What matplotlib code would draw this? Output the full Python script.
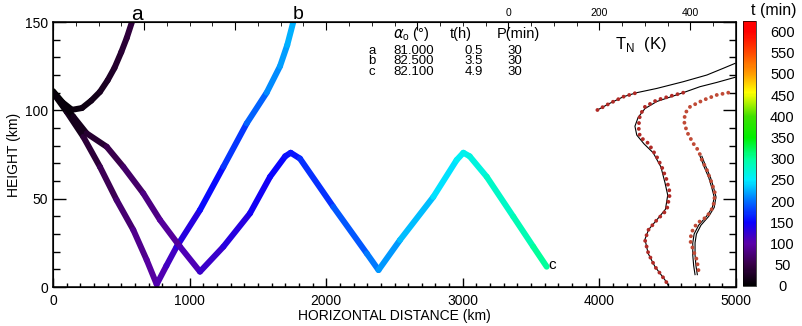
import numpy as np
import matplotlib
matplotlib.use('Agg')
import matplotlib.pyplot as plt
from matplotlib.collections import LineCollection
from matplotlib.colors import LinearSegmentedColormap, Normalize
from matplotlib.cm import ScalarMappable
from matplotlib.ticker import MultipleLocator, FuncFormatter

plt.rcParams['font.family'] = ['Liberation Sans', 'DejaVu Sans']

# ray paths: horizontal distance (km), height (km), travel time (min)
ray_a_x = [0, 70, 139, 212, 280, 344, 400, 450, 500, 540, 578]
ray_a_h = [110.9, 104.5, 100.3, 101.3, 105.5, 110.5, 117, 124, 133, 141, 150]
ray_a_t = [0, 4, 8, 12, 16, 20, 25, 30, 35, 40, 45]

ray_b_x = [0, 100, 222, 344, 466, 588, 686, 759, 830, 905, 1076, 1247, 1418, 1564, 1662, 1715, 1759]
ray_b_h = [110, 99.2, 85, 68, 49.2, 32.3, 15.3, 1.5, 12, 22.8, 43.6, 68, 92.6, 110, 125, 137, 150]
ray_b_t = [0, 12, 30, 50, 66, 80, 92, 100, 110, 120, 145, 165, 185, 205, 215, 222, 228]

ray_c_x = [0, 149, 246, 393, 515, 661, 783, 930, 1076, 1247, 1442, 1589, 1700, 1740, 1808,
           2052, 2297, 2383, 2540, 2784, 2955, 3004, 3050, 3175, 3370, 3516, 3614]
ray_c_h = [110, 96.4, 87, 79.4, 68, 53, 38, 22.8, 8.7, 22.8, 41.7, 62.4, 74, 76, 72.7,
           45.4, 19, 9.6, 26.6, 51, 71.9, 76, 74, 62.4, 39.8, 22.8, 11.5]
ray_c_t = [0, 15, 25, 45, 60, 75, 88, 100, 115, 125, 140, 150, 155, 158, 162,
           180, 200, 210, 222, 240, 252, 258, 262, 272, 285, 296, 305]

# temperature profiles (K) vs height (km), top axis
p1_line_T = [195.6, 223, 252.6, 282, 326, 384, 436, 472, 498]
p1_line_h = [100.2, 104, 107.7, 110, 112.4, 116.2, 120, 123.8, 126.6]
p1_dot_T = [195.6, 223, 252.6, 282]
p1_dot_h = [100.2, 104, 107.7, 110]

p2_line_T = [498, 457.7, 421, 384, 355, 326, 300, 285, 278, 282, 298, 318, 335, 344, 350,
             345, 326, 308, 300, 307, 322, 344, 351]
p2_line_h = [118.7, 115.8, 113.4, 110, 107.5, 105, 101, 96, 91, 86, 81, 76, 68, 59, 52,
             44, 38, 32.5, 27, 19, 11.5, 4, 1]
p2_dot_T = [384, 355, 326, 300, 289, 285.8, 289, 307.5, 318, 326, 337, 348, 355, 348, 326,
            307.5, 300, 307.5, 322, 344, 351]
p2_dot_h = [110, 108, 105.8, 102, 97.3, 90.7, 85, 81.3, 77, 73.7, 68, 60.5, 53, 43.6, 37.9,
            32.3, 26.6, 19, 11.5, 4, 1.1]

p3_dot_T = [483, 457.7, 428, 399, 388, 386, 392, 406, 418, 425, 436, 447, 454, 450, 436,
            414, 403, 399, 406, 414, 418]
p3_dot_h = [110, 108.7, 105.8, 102, 98.3, 93.6, 87.9, 81.3, 77, 71.9, 66.2, 58.7, 53, 45.4, 39.8,
            36, 31.3, 26.6, 20.9, 15.3, 8.7]
p3_lineA_T = [421, 430, 440, 447, 452, 448, 435, 418, 408, 405, 405, 407, 410]
p3_lineB_T = [425, 434, 444, 451, 456, 452, 440, 423, 413, 410, 410, 412, 415]
p3_line_h = [74, 68, 62, 56, 51, 45, 40, 35, 30, 25, 18, 12, 7]

# table of ray parameters
ray_names = ['a', 'b', 'c']
alpha0 = ['81.000', '82.500', '82.100']
t_hours = ['0.5', '3.5', '4.9']
period = ['30', '30', '30']

cbar_ticks = list(range(0, 601, 50))

cmap = LinearSegmentedColormap.from_list('rainbow_idl', [
    (0.0, '#000000'), (0.08, '#380048'), (0.16, '#5a00a8'), (0.24, '#0a00ff'),
    (0.32, '#0070ff'), (0.40, '#00eeff'), (0.48, '#00ffa0'), (0.56, '#00f000'),
    (0.64, '#40e000'), (0.73, '#ffff00'), (0.80, '#ffa000'), (0.88, '#ff4a00'),
    (0.96, '#ff0000'), (1.0, '#ff0000')])
norm = Normalize(0, 625)

fig = plt.figure(figsize=(8.03, 3.26), dpi=100)
ax = fig.add_axes([0.066, 0.1196, 0.8506, 0.8129])


def draw_ray(x, h, t):
    pts = np.column_stack([x, h])
    segs = np.stack([pts[:-1], pts[1:]], axis=1)
    tt = np.asarray(t, dtype=float)
    lc = LineCollection(segs, cmap=cmap, norm=norm, linewidths=4.3,
                        capstyle='round', joinstyle='round')
    lc.set_array((tt[:-1] + tt[1:]) / 2)
    ax.add_collection(lc)


draw_ray(ray_a_x, ray_a_h, ray_a_t)
draw_ray(ray_b_x, ray_b_h, ray_b_t)
draw_ray(ray_c_x, ray_c_h, ray_c_t)

ax.set_xlim(0, 5000)
ax.set_ylim(0, 150)
ax.xaxis.set_major_locator(MultipleLocator(1000))
ax.xaxis.set_minor_locator(MultipleLocator(100))
ax.yaxis.set_major_locator(MultipleLocator(50))
ax.yaxis.set_minor_locator(MultipleLocator(10))
ax.tick_params(which='both', direction='in', right=True, top=False, labelsize=10)
ax.tick_params(axis='y', which='major', length=9.5, width=1)
ax.tick_params(axis='y', which='minor', length=5, width=1)
ax.tick_params(axis='x', which='major', length=6.5, width=1, pad=5)
ax.tick_params(axis='x', which='minor', length=3, width=1)
ax.set_xlabel('HORIZONTAL DISTANCE (km)', fontsize=10, labelpad=1)
ax.set_ylabel('HEIGHT (km)', fontsize=10, labelpad=3)
for s in ax.spines.values():
    s.set_linewidth(1.1)

# ray labels
ax.text(615, 154.5, 'a', fontsize=15, ha='center', va='center')
ax.text(1793, 154.5, 'b', fontsize=14, ha='center', va='center')
ax.text(3651, 12.5, 'c', fontsize=11, ha='center', va='center')

# parameter table
tab = dict(transform=ax.transAxes, fontsize=9.5, va='center')
ax.text(0.498, 0.953, r'$\alpha_\mathregular{o}$ (°)', fontsize=10.5,
        transform=ax.transAxes, va='center')
ax.text(0.581, 0.953, 't(h)', fontsize=10.5, transform=ax.transAxes, va='center')
ax.text(0.650, 0.953, 'P(min)', fontsize=10.5, transform=ax.transAxes, va='center')
for i, yy in enumerate([0.892, 0.853, 0.813]):
    ax.text(0.467, yy, ray_names[i], ha='center', **tab)
    ax.text(0.499, yy, alpha0[i], **tab)
    ax.text(0.603, yy, t_hours[i], **tab)
    ax.text(0.665, yy, period[i], **tab)

# temperature panel on top axis
axT = ax.twiny()
axT.set_xlim(-1000, 500)
axT.set_ylim(0, 150)
axT.xaxis.set_major_locator(MultipleLocator(200))
axT.xaxis.set_minor_locator(MultipleLocator(50))
axT.xaxis.set_major_formatter(FuncFormatter(lambda v, p: '%d' % v if v >= 0 else ''))
axT.tick_params(which='both', direction='in', labelsize=7.5, pad=3)
axT.tick_params(which='major', length=6)
axT.tick_params(which='minor', length=3)

dot_style = dict(color='#b02a26', lw=2.8, linestyle=(0, (0.01, 1.5)),
                 dash_capstyle='round', zorder=3)
axT.plot(p1_line_T, p1_line_h, color='black', lw=0.8)
axT.plot(p2_line_T, p2_line_h, color='black', lw=0.8)
axT.plot(p3_lineA_T, p3_line_h, color='black', lw=0.8)
axT.plot(p3_lineB_T, p3_line_h, color='black', lw=0.8)
axT.plot(p1_dot_T, p1_dot_h, **dot_style)
axT.plot(p2_dot_T, p2_dot_h, **dot_style)
axT.plot(p3_dot_T, p3_dot_h, **dict(dot_style, color='#c04a36'))
axT.text(290, 137, r'T$_\mathregular{N}$  (K)', fontsize=12, ha='center', va='center')

# colorbar
cax = fig.add_axes([0.9253, 0.1227, 0.0162, 0.813])
cb = fig.colorbar(ScalarMappable(norm=norm, cmap=cmap), cax=cax, ticks=cbar_ticks)
cb.ax.tick_params(length=0, labelsize=10.5, pad=19)
for lab in cb.ax.get_yticklabels():
    lab.set_horizontalalignment('center')
cb.outline.set_linewidth(0.5)
fig.text(0.963, 0.968, 't (min)', fontsize=11.5, ha='center', va='center')

fig.savefig('out.png', dpi=100)
